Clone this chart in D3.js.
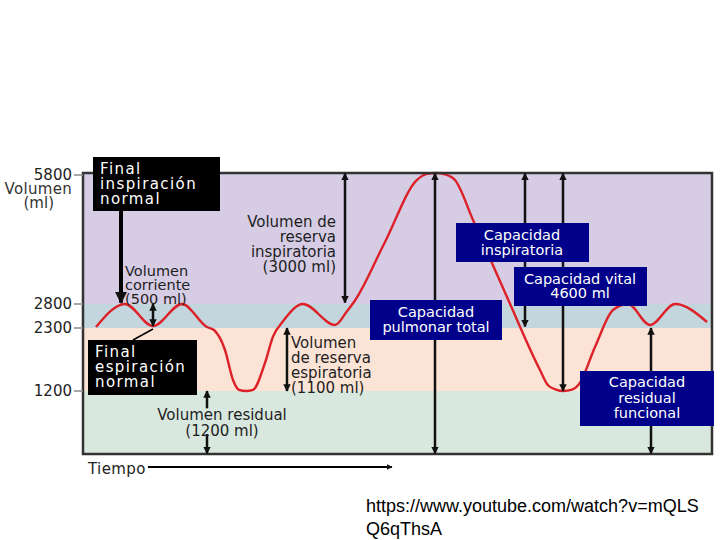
<!DOCTYPE html>
<html>
<head>
<meta charset="utf-8">
<script src="https://cdn.jsdelivr.net/npm/d3@7"></script>
<style>
  body { margin: 0; background: #fff; }
  text { font-family: "DejaVu Sans", Verdana, sans-serif; }
  text.source { font-family: "Liberation Sans", Arial, sans-serif; }
</style>
</head>
<body>
<div id="chart"></div>
<script>
// volume bands (ml) and their colours
var bandEdges = [0, 1200, 2300, 2800, 5800];
var bandColors = ["#d8e8df", "#fbe3d6", "#c4d6dd", "#d6cde5"];
var tickValues = [5800, 2800, 2300, 1200];

// spirogram trace: time (s) and volume (ml)
var traceTime = [1.3, 4.2, 7.0, 9.9, 12.4, 13.1, 14.2, 15.0, 15.6, 16.3, 17.0, 18.2, 19.0, 20.0,
                 22.0, 25.2, 26.4, 27.2, 30.2, 33.4, 34.4, 35.3, 36.2, 37.2, 39.0, 42.4, 45.7,
                 46.5, 47.3, 48.0, 48.9, 49.6, 51.2, 53.0, 54.5, 56.7, 59.2, 62.4];
var traceVolume = [2320, 2800, 2340, 2800, 2320, 2265, 1916, 1392, 1220, 1200, 1220, 1690, 2150, 2440,
                   2800, 2362, 2650, 2880, 4220, 5640, 5780, 5800, 5770, 5640, 4724, 2960, 1567,
                   1300, 1225, 1200, 1225, 1320, 1968, 2675, 2800, 2362, 2800, 2425];

// measured volumes shown as arrows: time position, from, to
var arrowTime = [7.0, 12.4, 26.2, 20.4, 35.2, 44.2, 48.0, 56.8];
var arrowFrom = [2800, 1200, 5790, 2300, 5790, 5790, 5790, 2300];
var arrowTo   = [2340, 10, 2830, 1200, 10, 2330, 1200, 10];

var width = 720, height = 540;
var svg = d3.select("#chart").append("svg")
    .attr("width", width)
    .attr("height", height);

var x = d3.scaleLinear().domain([0, 62.9]).range([83, 712]);
var y = d3.scaleLinear().domain(bandEdges).range([454, 391, 328, 304, 173]);

var defs = svg.append("defs");
defs.append("marker")
    .attr("id", "head")
    .attr("viewBox", "0 0 10 10")
    .attr("refX", 9).attr("refY", 5)
    .attr("markerWidth", 3).attr("markerHeight", 3)
    .attr("markerUnits", "strokeWidth")
    .attr("orient", "auto-start-reverse")
  .append("path")
    .attr("d", "M0,0L10,5L0,10Z")
    .attr("fill", "#111");

// background bands
svg.selectAll(".band")
  .data(bandColors)
  .enter().append("rect")
    .attr("class", "band")
    .attr("x", x(0))
    .attr("width", x(62.9) - x(0))
    .attr("y", function(d, i) { return y(bandEdges[i + 1]); })
    .attr("height", function(d, i) { return y(bandEdges[i]) - y(bandEdges[i + 1]); })
    .attr("fill", function(d) { return d; });

// the trace
var line = d3.line()
    .x(function(d) { return x(d[0]); })
    .y(function(d) { return y(d[1]); })
    .curve(d3.curveMonotoneX);

svg.append("path")
    .datum(d3.zip(traceTime, traceVolume))
    .attr("fill", "none")
    .attr("stroke", "#dd2128")
    .attr("stroke-width", 2.4)
    .attr("d", line);

// frame
svg.append("rect")
    .attr("x", x(0)).attr("y", y(5800))
    .attr("width", x(62.9) - x(0))
    .attr("height", y(0) - y(5800))
    .attr("fill", "none")
    .attr("stroke", "#333")
    .attr("stroke-width", 2.5);

// y ticks
var ticks = svg.append("g");
ticks.selectAll("line")
  .data(tickValues)
  .enter().append("line")
    .attr("x1", 74).attr("x2", x(0))
    .attr("y1", function(d) { return y(d) + (d === 5800 ? 2 : 0); })
    .attr("y2", function(d) { return y(d) + (d === 5800 ? 2 : 0); })
    .attr("stroke", "#8a8a8a")
    .attr("stroke-width", 1.5);
ticks.selectAll("text")
  .data(tickValues)
  .enter().append("text")
    .attr("x", 72)
    .attr("y", function(d) { return y(d) + (d === 5800 ? 7 : 5); })
    .attr("text-anchor", "end")
    .attr("font-size", 15)
    .attr("fill", "#222")
    .text(function(d) { return d; });
svg.append("text").attr("x", 72).attr("y", 194).attr("text-anchor", "end")
    .attr("font-size", 15).attr("letter-spacing", 0.3).attr("fill", "#333").text("Volumen");
svg.append("text").attr("x", 54).attr("y", 208).attr("text-anchor", "end")
    .attr("font-size", 15).attr("fill", "#333").text("(ml)");

// arrows
function arrow(t, v1, v2, both, w) {
  svg.append("line")
      .attr("x1", x(t)).attr("x2", x(t))
      .attr("y1", y(v1)).attr("y2", y(v2))
      .attr("stroke", "#111")
      .attr("stroke-width", w || 2.5)
      .attr("marker-start", both ? "url(#head)" : null)
      .attr("marker-end", "url(#head)");
}
arrowTime.forEach(function(t, i) {
  if (i === 1) {
    // residual volume arrow is split by its label
    arrow(t, 870, arrowFrom[i], false);
    arrow(t, 380, arrowTo[i], false);
  } else {
    arrow(t, arrowFrom[i], arrowTo[i], true);
  }
});
// end of normal inspiration pointer
svg.append("line")
    .attr("x1", x(3.8)).attr("x2", x(3.8))
    .attr("y1", 211).attr("y2", y(2830))
    .attr("stroke", "#000").attr("stroke-width", 4)
    .attr("marker-end", "url(#head)");
// end of normal expiration pointer
svg.append("line")
    .attr("x1", x(7.0)).attr("y1", y(2300) + 1)
    .attr("x2", 133).attr("y2", 340)
    .attr("stroke", "#000").attr("stroke-width", 1.5);

// plain labels
function label(lines, xPos, y0, dy, anchor, size) {
  var t = svg.append("text")
      .attr("font-size", size || 15)
      .attr("fill", "#1e1e1e")
      .attr("text-anchor", anchor);
  lines.forEach(function(s, i) {
    t.append("tspan").attr("x", xPos).attr("y", y0 + i * dy).text(s);
  });
}
label(["Volumen", "corriente", "(500 ml)"], 125, 276, 14, "start", 14.5);
label(["Volumen de", "reserva", "inspiratoria", "(3000 ml)"], 336, 227, 15, "end");
label(["Volumen", "de reserva", "espiratoria", "(1100 ml)"], 291, 348, 15, "start");
label(["Volumen residual", "(1200 ml)"], 222, 420, 16, "middle");

// boxed labels
function box(lines, x0, y0, w, h, fill, textX, textY, dy, anchor, size, spacing) {
  svg.append("rect")
      .attr("x", x0).attr("y", y0)
      .attr("width", w).attr("height", h)
      .attr("fill", fill);
  var t = svg.append("text")
      .attr("font-size", size)
      .attr("letter-spacing", spacing)
      .attr("fill", "#fff")
      .attr("text-anchor", anchor);
  lines.forEach(function(s, i) {
    t.append("tspan").attr("x", textX).attr("y", textY + i * dy).text(s);
  });
}
box(["Final", "inspiración", "normal"], 93, 157, 127, 54, "#000", 100, 174, 15, "start", 15, 1.4);
box(["Final", "espiración", "normal"], 88, 340, 109, 55, "#000", 95, 357, 15, "start", 15, 1.4);
box(["Capacidad", "inspiratoria"], 456, 223, 133, 39, "#00008a", 522, 240, 15, "middle", 14.5, 0);
box(["Capacidad vital", "4600 ml"], 514, 267, 133, 39, "#00008a", 580, 284, 14, "middle", 14.5, 0);
box(["Capacidad", "pulmonar total"], 370, 300, 132, 40, "#00008a", 436, 317, 15, "middle", 14.5, 0);
box(["Capacidad", "residual", "funcional"], 580, 371, 134, 55, "#00008a", 647, 387, 15.5, "middle", 14.5, 0);

// time axis
svg.append("text").attr("x", 88).attr("y", 474)
    .attr("font-size", 15).attr("letter-spacing", 0.4).attr("fill", "#222").text("Tiempo");
svg.append("line")
    .attr("x1", 148).attr("x2", 392)
    .attr("y1", 467).attr("y2", 467)
    .attr("stroke", "#000").attr("stroke-width", 2)
    .attr("marker-end", "url(#head)");

// source
var src = svg.append("text")
    .attr("class", "source")
    .attr("font-size", 18)
    .attr("fill", "#000");
src.append("tspan").attr("x", 366).attr("y", 512).text("https://www.youtube.com/watch?v=mQLS");
src.append("tspan").attr("x", 366).attr("y", 535).text("Q6qThsA");
</script>
</body>
</html>
